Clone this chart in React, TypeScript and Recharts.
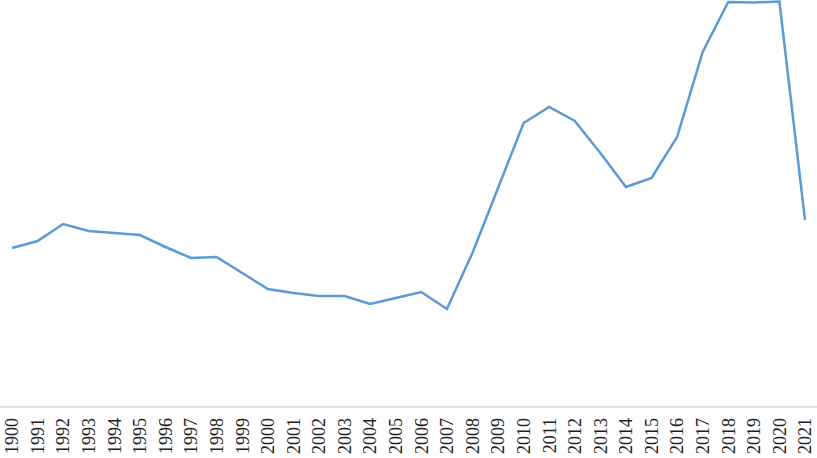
import { LineChart, Line, XAxis, YAxis } from 'recharts';

const years = [
  '1900', '1991', '1992', '1993', '1994', '1995', '1996', '1997', '1998', '1999',
  '2000', '2001', '2002', '2003', '2004', '2005', '2006', '2007', '2008', '2009',
  '2010', '2011', '2012', '2013', '2014', '2015', '2016', '2017', '2018', '2019',
  '2020', '2021',
];

const values = [
  159, 166, 183, 176, 174, 172, 160, 149, 150, 134,
  118, 114, 111, 111, 103, 109, 115, 98, 154, 219,
  284, 300, 286, 254, 220, 229, 270, 355, 405, 404.5,
  405.5, 187,
];

const data = years.map((year, i) => ({ year, value: values[i] }));

function YearTick({ x, y, payload }: { x: number; y: number; payload: { value: string } }) {
  return (
    <g transform={`translate(${x},${y})`}>
      <text
        transform="rotate(-90)"
        x={-3}
        dy="0.35em"
        textAnchor="end"
        fill="#222"
        fontSize={18}
        fontFamily="'Liberation Serif', 'Times New Roman', serif"
      >
        {payload.value}
      </text>
    </g>
  );
}

export default function App() {
  return (
    <div style={{ position: 'absolute', left: 0, top: 0, background: '#fff' }}>
      <LineChart width={817} height={458} data={data} margin={{ top: 0, right: 0, bottom: 0, left: 0 }}>
        <XAxis
          dataKey="year"
          height={51}
          interval={0}
          padding={{ left: 12, right: 12 }}
          tickLine={false}
          axisLine={{ stroke: '#d9d9d9', strokeWidth: 1.5 }}
          tick={YearTick}
        />
        <YAxis hide domain={[0, 407]} />
        <Line
          type="linear"
          dataKey="value"
          stroke="#5b9bd5"
          strokeWidth={2.5}
          dot={false}
          activeDot={false}
          isAnimationActive={false}
        />
      </LineChart>
    </div>
  );
}
